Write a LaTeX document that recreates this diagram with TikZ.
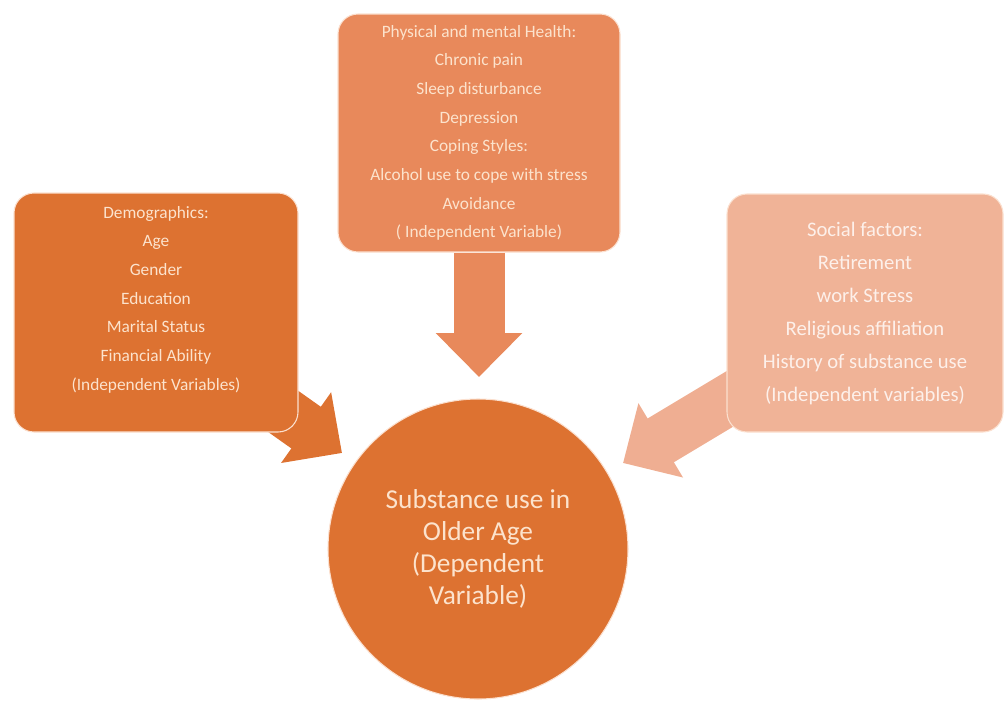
\documentclass[tikz,border=0pt]{standalone}
\usepackage{xcolor}
\usepackage{fontspec}
\setmainfont{Carlito}
\usepackage{tikz}
\usetikzlibrary{arrows.meta,backgrounds}

\definecolor{demogCol}{HTML}{DD7231}
\definecolor{healthCol}{HTML}{E8895B}
\definecolor{socialCol}{HTML}{F0B397}
\definecolor{socialArrow}{HTML}{EFAE92}
\definecolor{rimCol}{HTML}{FBE0CF}
\definecolor{creamTxt}{HTML}{FCE3CD}
\definecolor{paleTxt}{HTML}{FDF0EA}

\begin{document}
\begin{tikzpicture}[x=0.75pt,y=0.75pt,yscale=-1,xscale=1,
  factorbox/.style={rounded corners=15pt, draw=rimCol, line width=0.8pt, inner sep=0pt, align=center},
  smalltxt/.style={font=\fontsize{13}{21.5}\selectfont, text=creamTxt},
  blockarrow/.style={line width=38.25pt, -{Triangle[width=63pt 0 0,length=33pt 0 0]}}]
\useasboundingbox (0,0) rectangle (1005,704);

%Shape: Rectangle [id:health] 
\node (health) [factorbox, smalltxt, fill=healthCol, minimum width=211.5pt, minimum height=178.5pt] at (479,133)
  {Physical and mental Health:\\ Chronic pain\\ Sleep disturbance\\ Depression\\ Coping Styles:\\ Alcohol use to cope with stress\\ Avoidance\\ ( Independent Variable)};
%Shape: Rectangle [id:demog] 
\node (demog) [factorbox, smalltxt, fill=demogCol, minimum width=213pt, minimum height=179.25pt] at (156,312.5)
  {Demographics:\\ Age\\ Gender\\ Education\\ Marital Status\\ Financial Ability\\ (Independent Variables)\\ \mbox{}};
%Shape: Rectangle [id:social] 
\node (social) [factorbox, fill=socialCol, text=paleTxt, font=\fontsize{15.5}{24.75}\selectfont, minimum width=207pt, minimum height=178.5pt] at (865,313)
  {Social factors:\\ Retirement\\ work Stress\\ Religious affiliation\\ History of substance use\\ (Independent variables)};
%Shape: Circle [id:outcome] 
\node (outcome) [circle, draw=rimCol, line width=0.8pt, fill=demogCol, text=creamTxt, minimum size=225pt, inner sep=0pt, align=center, font=\fontsize{20.5}{24}\selectfont] at (478,549)
  {Substance use in\\ Older Age\\ (Dependent\\ Variable)};

% arrow tips
\coordinate (healthTip) at (479,377);
\coordinate (demogTip) at (342,453);
\coordinate (socialTip) at (623,463);
\coordinate (demogTail) at (236,378);
\coordinate (socialTail) at (743,391);

\begin{pgfonlayer}{background}
%Shape: Down Arrow
\draw [blockarrow, draw=healthCol] (health.south) -- (healthTip);
%Shape: Right Arrow
\draw [blockarrow, draw=demogCol] (demogTail) -- (demogTip);
%Shape: Left Arrow
\draw [blockarrow, draw=socialArrow] (socialTail) -- (socialTip);
\end{pgfonlayer}

\end{tikzpicture}
\end{document}
